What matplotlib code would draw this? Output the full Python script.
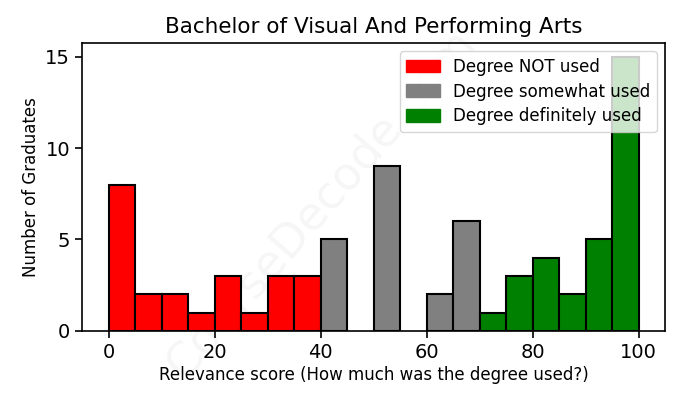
import numpy as np
import matplotlib
matplotlib.use("Agg")
import matplotlib.pyplot as plt
from matplotlib.patches import Patch

# histogram bins (left edge, width 5) and counts
bin_left = [0, 5, 10, 15, 20, 25, 30, 35, 40, 45, 50, 55, 60, 65, 70, 75, 80, 85, 90, 95]
counts = [8, 2, 2, 1, 3, 1, 3, 3, 5, 0, 9, 0, 2, 6, 1, 3, 4, 2, 5, 15]
bin_width = 5

groups = ["Degree NOT used", "Degree somewhat used", "Degree definitely used"]
group_colors = ["red", "grey", "green"]


def group_of(score):
    if score < 40:
        return 0
    if score < 70:
        return 1
    return 2


fig = plt.figure(figsize=(6.78, 4.08), dpi=100)
ax = fig.add_axes([0.121, 0.189, 0.86, 0.706])

for left, n in zip(bin_left, counts):
    if n == 0:
        continue
    ax.bar(left, n, width=bin_width, align="edge",
           color=group_colors[group_of(left)], edgecolor="black", linewidth=1.5)

ax.set_xlim(-5, 105)
ax.set_ylim(0, 15.75)
ax.set_xticks([0, 20, 40, 60, 80, 100])
ax.set_yticks([0, 5, 10, 15])
ax.tick_params(labelsize=14, width=1.2, length=5)
for sp in ax.spines.values():
    sp.set_linewidth(1.2)

ax.set_title("Bachelor of Visual And Performing Arts", fontsize=15.5, pad=7)
ax.set_xlabel("Relevance score (How much was the degree used?)", fontsize=12, labelpad=3)
ax.set_ylabel("Number of Graduates", fontsize=12)

handles = [Patch(color=c, label=g) for g, c in zip(groups, group_colors)]
ax.legend(handles=handles, loc="upper right", fontsize=12,
          borderaxespad=0.5, labelspacing=0.4, handleheight=0.8)

# faint watermark behind the bars
ax.text(0.41, 0.44, "CourseDecode.com", transform=ax.transAxes, fontsize=33,
        color="grey", alpha=0.07, rotation=49, ha="center", va="center",
        zorder=0, clip_on=False)

fig.savefig("out.png", dpi=100)
